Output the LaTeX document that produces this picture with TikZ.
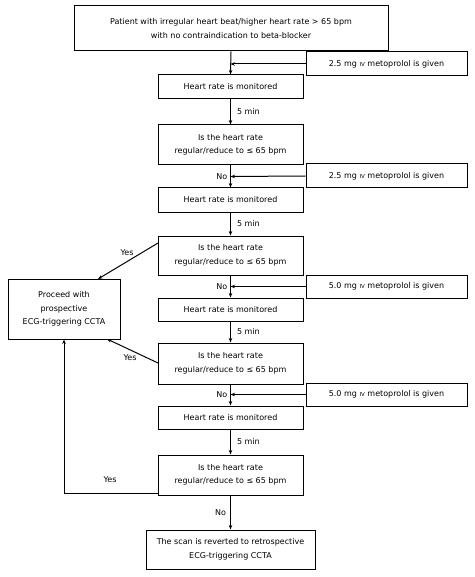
\documentclass[tikz,border=0pt]{standalone}
\usepackage{fontspec}
\setmainfont{DejaVu Sans}
\usetikzlibrary{arrows.meta}
\newcommand{\ivtxt}{{\fontsize{5.5}{6}\selectfont IV}}
\begin{document}
\begin{tikzpicture}[x=1pt,y=-1pt,
  box/.style={draw, line width=1pt, inner sep=0pt, align=center, font=\fontsize{8}{13.5}\selectfont},
  lbl/.style={font=\fontsize{8}{10}\selectfont, inner sep=1pt},
  arr/.style={line width=1pt, -{Stealth[length=4.5pt,width=3.5pt]}},
  ln/.style={line width=1pt}]
\useasboundingbox (0,0) rectangle (474,577);
\node[box, minimum width=314, minimum height=45] (top) at (231,28.5) {Patient with irregular heart beat/higher heart rate > 65 bpm\\with no contraindication to beta-blocker};
\node[box, minimum width=161, minimum height=24] (d1) at (386.5,64) {2.5 mg \ivtxt{} metoprolol is given};
\node[box, minimum width=145, minimum height=24] (h1) at (230.5,87) {Heart rate is monitored};
\node[box, minimum width=145, minimum height=40] (q1) at (230.5,145) {Is the heart rate\\regular/reduce to ≤ 65 bpm};
\node[box, minimum width=161, minimum height=24] (d2) at (386.5,176) {2.5 mg \ivtxt{} metoprolol is given};
\node[box, minimum width=145, minimum height=24] (h2) at (230.5,200) {Heart rate is monitored};
\node[box, minimum width=145, minimum height=39] (q2) at (230.5,255.5) {Is the heart rate\\regular/reduce to ≤ 65 bpm};
\node[box, minimum width=161, minimum height=23] (d3) at (386.5,286.5) {5.0 mg \ivtxt{} metoprolol is given};
\node[box, minimum width=145, minimum height=23] (h3) at (230.5,309.5) {Heart rate is monitored};
\node[box, minimum width=145, minimum height=41] (q3) at (230.5,363.5) {Is the heart rate\\regular/reduce to ≤ 65 bpm};
\node[box, minimum width=161, minimum height=23] (d4) at (386.5,394.5) {5.0 mg \ivtxt{} metoprolol is given};
\node[box, minimum width=145, minimum height=23] (h4) at (230.5,417.5) {Heart rate is monitored};
\node[box, minimum width=145, minimum height=40] (q4) at (230.5,475) {Is the heart rate\\regular/reduce to ≤ 65 bpm};
\node[box, minimum width=112, minimum height=60] (pro) at (64,309) {Proceed with\\prospective\\ECG-triggering CCTA};
\node[box, minimum width=169, minimum height=39] (fin) at (230.5,549.5) {The scan is reverted to retrospective\\ECG-triggering CCTA};
% main column
\coordinate (j1) at (230.5,64);
\coordinate (j2) at (230.5,176.5);
\coordinate (j3) at (230.5,286.5);
\coordinate (j4) at (230.5,394.5);
\draw[arr] (top.south) -- (h1.north);
\draw[arr] (d1.west) -- (j1);
\draw[arr] (h1.south) -- node[lbl, right=5pt] {5 min} (q1.north);
\draw[arr] (q1.south) -- (h2.north);
\node[lbl, left=2pt] (no1) at (j2) {No};
\draw[arr] (d2.west) -- (j2);
\draw[arr] (h2.south) -- node[lbl, right=5pt] {5 min} (q2.north);
\draw[arr] (q2.south) -- (h3.north);
\node[lbl, left=2pt] (no2) at (j3) {No};
\draw[arr] (d3.west) -- (j3);
\draw[arr] (h3.south) -- node[lbl, right=5pt] {5 min} (q3.north);
\draw[arr] (q3.south) -- (h4.north);
\node[lbl, left=2pt] (no3) at (j4) {No};
\draw[arr] (d4.west) -- (j4);
\draw[arr] (h4.south) -- node[lbl, right=5pt] {5 min} (q4.north);
\draw[arr] (q4.south) -- node[lbl, left=3pt] {No} (fin.north);
% yes branches
\coordinate (y1s) at (158,243);
\coordinate (y1e) at (98,279);
\draw[arr] (y1s) -- (y1e);
\node[lbl] (yes1) at (127,253) {Yes};
\coordinate (y2s) at (158,363);
\coordinate (y2e) at (107,339);
\draw[arr] (y2s) -- (y2e);
\node[lbl] (yes2) at (130,358) {Yes};
\coordinate (y3s) at (158,493);
\coordinate (y3c) at (64,493);
\draw[arr] (y3s) -- (y3c) -- (pro.south);
\node[lbl] (yes3) at (110,480) {Yes};
\end{tikzpicture}
\end{document}
